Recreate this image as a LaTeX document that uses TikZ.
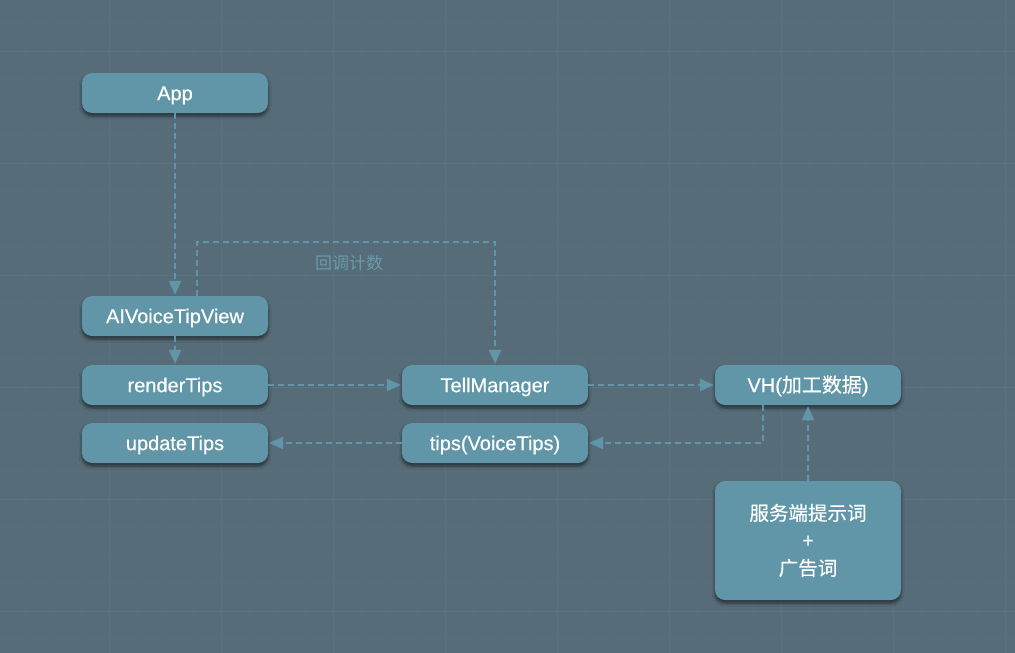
\documentclass[tikz,border=0pt]{standalone}
\usepackage{fontspec}
\setmainfont{Liberation Sans}[FakeBold=0.35]
\newfontfamily\cjk{Noto Sans CJK SC}[FakeBold=0.35]
\newfontfamily\cjklight{Noto Sans CJK SC}
\usetikzlibrary{arrows.meta,shadows.blur,calc}
\definecolor{bgc}{HTML}{566C78}
\definecolor{gridmaj}{HTML}{5A727E}
\definecolor{gridmin}{HTML}{586F7B}
\definecolor{nodec}{HTML}{6096A8}
\definecolor{labc}{HTML}{6A9AAB}
\tikzset{
  box/.style={rectangle, rounded corners=10pt, fill=nodec, text=white,
    minimum width=186pt, minimum height=40pt, inner sep=0pt,
    text height=14.3pt, text depth=0pt,
    font=\fontsize{20pt}{24pt}\selectfont,
    blur shadow={shadow xshift=0pt, shadow yshift=-3pt, shadow blur steps=6, shadow opacity=55, shadow blur radius=3pt}},
  flow/.style={draw=nodec, line width=2.4pt, dash pattern=on 6pt off 4pt,
    -{Triangle[length=14pt,width=12pt]}, shorten >=1pt},
}
\begin{document}
\begin{tikzpicture}[x=1pt,y=-1pt]
\fill[bgc] (0,0) rectangle (1015,653);
\useasboundingbox (0,0) rectangle (1015,653);
% grid
\foreach \i in {0,...,36} {
  \draw[gridmin, line width=0.5pt] ({-2.7+28*\i},0) -- ({-2.7+28*\i},653);
}
\foreach \i in {-1,...,23} {
  \draw[gridmin, line width=0.5pt] (0,{51.7+28*\i}) -- (1015,{51.7+28*\i});
}
\foreach \i in {0,...,9} {
  \draw[gridmaj, line width=0.8pt] ({-2.7+112*\i},0) -- ({-2.7+112*\i},653);
}
\foreach \i in {0,...,5} {
  \draw[gridmaj, line width=0.8pt] (0,{51.7+112*\i}) -- (1015,{51.7+112*\i});
}
% nodes
\node[box] (app) at (175,93) {App};
\node[box] (aiv) at (175,316) {AIVoiceTipView};
\node[box] (rt) at (175,385) {renderTips};
\node[box] (ut) at (175,443) {updateTips};
\node[box] (tm) at (495,385) {TellManager};
\node[box] (tips) at (495,443) {tips(VoiceTips)};
\node[box] (vh) at (808,385) {VH({\cjk 加工数据})};
\node[box, minimum height=119pt, text height=, text depth=, align=center, font=\cjk\fontsize{19.5pt}{27.5pt}\selectfont] (srv) at (808,540.5) {服务端提示词\\+\\广告词};
\node[text=labc, font=\cjklight\fontsize{17pt}{20pt}\selectfont] (lab) at (349,263) {回调计数};
% connectors
\coordinate (cb) at (197,242);
\coordinate (vx) at (763,443);
\draw[flow] (app) -- (aiv);
\draw[flow] (aiv) -- (rt);
\draw[flow] (rt) -- (tm);
\draw[flow] (tm) -- (vh);
\draw[flow] (aiv.north -| cb) -- (cb) -| (tm.north);
\draw[flow] (vh.south -| vx) |- (tips.east);
\draw[flow] (tips) -- (ut);
\draw[flow] (srv) -- (vh);
\end{tikzpicture}
\end{document}
